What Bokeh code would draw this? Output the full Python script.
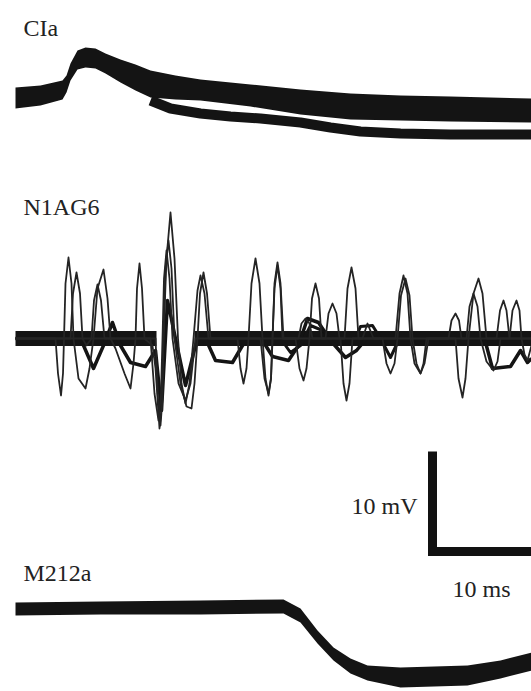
from bokeh.plotting import figure
from bokeh.models import Range1d
from bokeh.core.properties import value
from bokeh.embed import file_html
from bokeh.resources import INLINE

# ---------------- data (time in ms, voltage in mV relative to each trace baseline) -------------
# CIa: envelope of the overlapping sweeps, and one sweep that separates below
cia_t = [1.5, 4.0, 6.2, 6.6, 7.0, 7.7, 8.5, 9.5, 10.5, 12.0, 13.5, 15.0, 17.5, 20.0, 25.0, 30.0, 35.0, 40.0, 45.0, 53.1]
cia_upper = [1.05, 1.25, 1.75, 2.25, 3.45, 4.75, 5.05, 4.95, 4.45, 3.85, 3.35, 2.75, 2.25, 1.85, 1.35, 0.85, 0.45, 0.25, 0.15, -0.05]
cia_lower = [-1.05, -0.75, -0.15, 0.55, 1.75, 2.85, 3.05, 2.95, 2.45, 1.55, 0.75, 0.05, -0.15, -0.25, -0.85, -1.65, -2.15, -2.25, -2.35, -2.45]
cia_sweep_t = [15.0, 17.0, 20.0, 23.0, 26.0, 30.0, 33.0, 36.0, 40.0, 45.0, 53.1]
cia_sweep_v = [-0.25, -1.05, -1.55, -1.85, -2.05, -2.45, -2.95, -3.35, -3.55, -3.65, -3.65]

# N1AG6: quiet sweeps (baseline band, interrupted by the large spike) and oscillating sweeps
n1_base_t = [[1.5, 15.6], [19.4, 53.1]]
n1_base_v = [[0, 0], [0, 0]]

n1_s1_t = [1.5, 5.5, 5.75, 6.05, 6.25, 6.35, 6.5, 6.8, 7.1, 7.3, 7.8, 8.5, 8.9, 9.3, 9.7, 10.3, 10.7, 11.0,
           11.5, 12.4, 13.0, 13.3, 13.5, 13.65, 13.9, 14.15, 14.4, 15.2, 15.5, 15.9, 16.1, 16.3, 16.6, 17.0,
           17.4, 17.75, 18.1, 18.5, 18.9, 19.3, 19.7, 20.0, 20.4, 20.8, 23.7, 24.0, 24.3, 24.6, 24.8, 25.1,
           25.5, 25.9, 26.2, 26.5, 26.8, 27.05, 27.2, 27.4, 27.7, 28.0, 28.3, 34.0, 34.3, 34.6, 34.9, 35.2,
           39.5, 39.9, 40.3, 40.7, 41.0, 41.4, 42.0, 42.4, 42.8, 45.5, 45.8, 46.2, 46.5, 46.8, 47.3, 47.8,
           48.2, 48.6, 49.6, 49.95, 50.3, 50.6, 50.9, 53.1]
n1_s1_v = [0, 0, -3.5, -5.7, -3.5, 0, 5.5, 8.1, 5.5, 0, -4.0, -5.0, -3.0, 0, 5.0, 6.9, 4.0, 0,
           -1.0, -3.5, -5.0, -2.5, 0, 5.0, 7.5, 5.0, 0, -0.7, -3.0, -9.0, -7.0, 0, 8.0, 12.6,
           8.0, 0, -4.5, -6.5, -4.5, 0, 4.8, 6.3, 4.5, 0, 0, -3.0, -4.5, -3.0, 0, 5.5,
           8.0, 5.5, 0, -4.0, -5.7, -4.0, 0, 5.5, 7.6, 5.5, 0, 0, -4.5, -6.2, -4.5, 0,
           0, 4.5, 6.3, 4.5, 0, -2.5, -3.5, -2.5, 0, 0, -4.0, -5.9, -4.0, 0, 4.5, 6.0,
           4.5, 0, 0, 2.8, 3.8, 2.8, 0, 0]

n1_s2_t = [1.5, 7.0, 7.25, 7.6, 7.95, 8.2, 8.6, 9.1, 9.35, 9.7, 10.05, 10.4, 15.5, 15.75, 16.0, 16.2, 16.3,
           16.5, 16.8, 17.1, 17.4, 18.0, 18.6, 19.1, 19.4, 19.7, 19.95, 20.3, 20.65, 21.0, 29.5, 29.9, 30.3,
           30.6, 30.9, 31.15, 31.5, 31.85, 32.1, 38.2, 38.6, 39.0, 39.4, 39.7, 40.05, 40.5, 40.9, 41.2, 41.6,
           42.0, 42.3, 42.6, 46.6, 46.9, 47.3, 47.7, 48.0, 48.6, 49.3, 49.7, 50.0, 50.9, 51.2, 51.6, 51.9,
           52.1, 52.4, 52.7, 53.1]
n1_s2_v = [0, 0, 4.5, 6.6, 4.5, 0, -0.7, 0, 3.8, 5.4, 3.8, 0, 0, -6.0, -8.7, -6.0, 0,
           7.0, 9.8, 7.0, 0, -4.5, -6.8, -7.0, -4.5, 0, 4.5, 6.6, 4.5, 0, 0, -3.0, -4.2,
           -3.0, 0, 4.0, 5.5, 4.0, 0, 0, -2.5, -3.5, -2.5, 0, 4.3, 6.0, 4.3, 0, -2.5,
           -3.5, -2.5, 0, 0, 3.2, 4.5, 3.2, 0, -2.3, -3.2, -2.3, 0, 0, 2.8, 3.8, 2.8,
           0, -1.6, -2.2, -0.7]

n1_s3_t = [1.5, 15.0, 15.4, 15.8, 16.05, 16.2, 16.35, 16.6, 16.9, 17.2, 17.8, 18.5, 19.0, 19.5, 26.0, 26.4,
           26.8, 27.05, 27.2, 27.4, 27.7, 28.0, 28.2, 29.8, 30.1, 30.5, 30.9, 31.2, 32.5, 32.8, 33.2, 33.6,
           33.9, 34.4, 34.7, 35.1, 35.5, 35.8, 36.2, 36.7, 37.3, 44.8, 45.1, 45.5, 45.85, 46.1, 53.1]
n1_s3_v = [0, 0, -5.5, -8.2, -5.5, 0, 6.0, 8.8, 6.0, 0, -4.5, -6.2, -4.5, 0, 0, -4.0,
           -5.5, -4.0, 0, 5.0, 7.3, 5.0, 0, 0, 1.5, 2.0, 1.5, 0, 0, 2.5, 3.5, 2.5,
           0, 0, 5.0, 7.1, 5.0, 0, 0, 1.5, 0, 0, 1.8, 2.5, 1.8, 0, 0]

n1_m1_t = [1.5, 8.0, 9.3, 10.3, 11.2, 12.0, 13.0, 14.5, 15.5, 16.1, 16.7, 17.5, 18.5, 19.5, 20.5, 21.5, 23.2,
           24.2, 25.0, 26.2, 27.2, 28.8, 29.8, 30.7, 31.8, 33.0, 34.5, 35.6, 36.6, 48.4, 49.2, 51.0, 52.0,
           52.7, 53.1]
n1_m1_v = [0, 0, -3.0, -0.7, 1.6, -0.7, -2.4, -2.8, -1.2, -7.2, 3.8, 0, -4.7, -0.7, 0, -2.2, -2.4,
           -0.7, 0, -0.2, -1.8, -2.2, -0.7, 2.0, 1.6, -0.2, -1.9, -1.2, 0, 0, -3.0, -2.8, -1.2,
           -2.4, -2.0]

n1_m2_t = [21.0, 28.0, 29.0, 30.0, 31.0, 32.2, 33.5, 35.5, 36.0, 37.2, 38.0, 39.0, 39.8, 53.1]
n1_m2_v = [0, 0, -1.4, -0.7, 1.3, 0.8, 0, 0, 1.2, 1.3, 0, -1.9, -0.2, 0]

# M212a: envelope of the overlapping sweeps
m2_t = [1.5, 10.0, 20.0, 28.3, 30.0, 31.7, 33.3, 35.0, 36.7, 40.0, 46.7, 50.0, 53.1]
m2_upper = [0.5, 0.6, 0.7, 0.8, -0.1, -2.3, -4.0, -5.1, -5.8, -6.0, -5.8, -5.3, -4.5]
m2_lower = [-0.8, -0.7, -0.7, -0.6, -1.5, -3.6, -5.3, -6.6, -7.3, -8.0, -7.8, -7.1, -6.3]

# baselines (vertical position of each recording on the stacked axis, mV)
offsets = {"CIa": -9.75, "N1AG6": -33.8, "M212a": -60.7}

# labels
label_names = ["CIa", "N1AG6", "M212a"]
label_t = [2.3, 2.3, 2.3]
label_v = [-2.7, -20.6, -57.2]

# scale bar
bar_t0 = 43.2
bar_v0 = -55.1
bar_ms = 10
bar_mV = 10

# ---------------- figure ----------------
p = figure(width=531, height=691, x_range=Range1d(0.0, 53.1), y_range=Range1d(-69.1, 0.0),
           toolbar_location=None, output_backend="svg", min_border=0,
           x_axis_location=None, y_axis_location=None)
p.grid.visible = False
p.outline_line_color = None
p.background_fill_color = "white"
p.border_fill_color = "white"

ink = "#141414"

def shift(vals, key):
    return [v + offsets[key] for v in vals]

# CIa
p.varea(x=cia_t, y1=shift(cia_lower, "CIa"), y2=shift(cia_upper, "CIa"), fill_color=ink)
p.line(cia_sweep_t, shift(cia_sweep_v, "CIa"), line_color=ink, line_width=10)

# N1AG6
p.multi_line(xs=n1_base_t, ys=[shift(v, "N1AG6") for v in n1_base_v], line_color=ink, line_width=15)
p.line(n1_m1_t, shift(n1_m1_v, "N1AG6"), line_color=ink, line_width=3.5, line_join="round")
p.line(n1_m2_t, shift(n1_m2_v, "N1AG6"), line_color=ink, line_width=3, line_join="round")
for tt, vv in [(n1_s1_t, n1_s1_v), (n1_s2_t, n1_s2_v), (n1_s3_t, n1_s3_v)]:
    p.line(tt, shift(vv, "N1AG6"), line_color="#242424", line_width=1.8, line_join="round")

# M212a
p.varea(x=m2_t, y1=shift(m2_lower, "M212a"), y2=shift(m2_upper, "M212a"), fill_color=ink)

# scale bar
p.line([bar_t0, bar_t0, bar_t0 + bar_ms], [bar_v0 + bar_mV, bar_v0, bar_v0],
       line_color="#111111", line_width=9, line_join="miter", line_cap="butt")

serif = value("Liberation Serif")
p.text(x=label_t, y=label_v, text=label_names, text_font=serif, text_font_size="24px",
       text_color="#222222", text_baseline="alphabetic", text_align="left")
p.text(x=[bar_t0 - 1.5], y=[bar_v0 + 4.6], text=["%d mV" % bar_mV], text_font=serif, text_font_size="24px",
       text_color="#222222", text_baseline="alphabetic", text_align="right")
p.text(x=[bar_t0 + 4.9], y=[bar_v0 - 3.7], text=["%d ms" % bar_ms], text_font=serif, text_font_size="24px",
       text_color="#222222", text_baseline="alphabetic", text_align="center")

open("out.html", "w").write(file_html(p, INLINE))
